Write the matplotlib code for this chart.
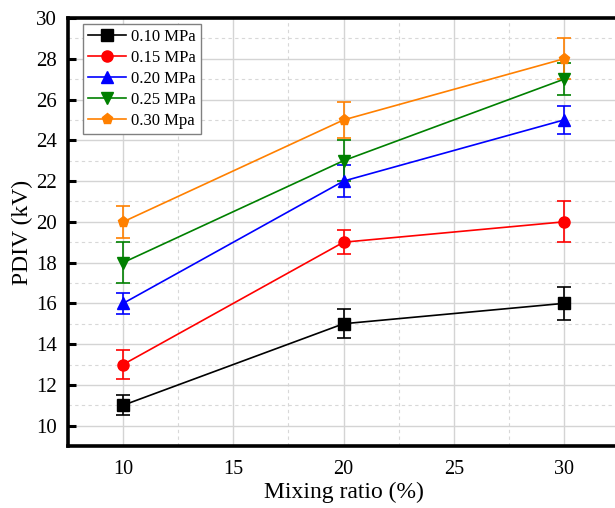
import matplotlib.pyplot as plt
from matplotlib.ticker import MultipleLocator

# 数据：混合比例与各压力下的PDIV
mixing_ratio = [10, 20, 30]
labels = ['0.10 MPa', '0.15 MPa', '0.20 MPa', '0.25 MPa', '0.30 Mpa']
pdiv_010 = [11, 15, 16]
pdiv_015 = [13, 19, 20]
pdiv_020 = [16, 22, 25]
pdiv_025 = [18, 23, 27]
pdiv_030 = [20, 25, 28]
err_010 = [0.5, 0.7, 0.8]
err_015 = [0.7, 0.6, 1.0]
err_020 = [0.5, 0.8, 0.7]
err_025 = [1.0, 1.0, 0.8]
err_030 = [0.8, 0.9, 1.0]

series = [pdiv_010, pdiv_015, pdiv_020, pdiv_025, pdiv_030]
errors = [err_010, err_015, err_020, err_025, err_030]
colors = ['black', 'red', 'blue', 'green', '#ff8000']
markers = ['s', 'o', '^', 'v', 'p']

plt.rcParams['font.family'] = ['Liberation Serif', 'DejaVu Serif']

fig = plt.figure(figsize=(6.15, 5.08), dpi=100)
ax = fig.add_axes([0.1106, 0.122, 0.896, 0.8425])

handles = []
for y, e, c, m, lab in zip(series, errors, colors, markers, labels):
    eb = ax.errorbar(mixing_ratio, y, yerr=e, color=c, marker=m, markersize=8,
                     lw=1.2, elinewidth=1.2, capsize=5, capthick=1.2, label=lab)
    handles.append(eb[0])   # 图例只显示线和标记

ax.set_xlim(7.5, 32.5)
ax.set_ylim(9, 30)
ax.xaxis.set_major_locator(MultipleLocator(5))
ax.xaxis.set_minor_locator(MultipleLocator(2.5))
ax.yaxis.set_major_locator(MultipleLocator(2))
ax.yaxis.set_minor_locator(MultipleLocator(1))

# 网格：主网格实线，次网格虚线
ax.grid(which='major', color='#d4d4d4', lw=1.0, ls='-')
ax.grid(which='minor', color='#d8d8d8', lw=0.8, ls=(0, (3, 3)))
ax.set_axisbelow(True)

for side in ['left', 'bottom', 'top', 'right']:
    ax.spines[side].set_linewidth(2.6)

ax.tick_params(axis='y', which='major', direction='in', length=6, width=2.2,
               labelsize=15, pad=8)
ax.tick_params(axis='x', which='major', length=0, labelsize=14.5, pad=10)
ax.tick_params(which='minor', length=0)

ax.set_xlabel('Mixing ratio (%)', fontsize=17, labelpad=2)
ax.set_ylabel('PDIV (kV)', fontsize=17, labelpad=2)

leg = ax.legend(handles, labels, loc='upper left', bbox_to_anchor=(0.027, 0.986),
                borderaxespad=0, fontsize=12, fancybox=False, edgecolor='gray',
                framealpha=1, handlelength=2.3, handletextpad=0.3,
                labelspacing=0.3, borderpad=0.3, markerscale=1.0)
leg.get_frame().set_linewidth(1.0)

plt.savefig('out.png', dpi=100)
